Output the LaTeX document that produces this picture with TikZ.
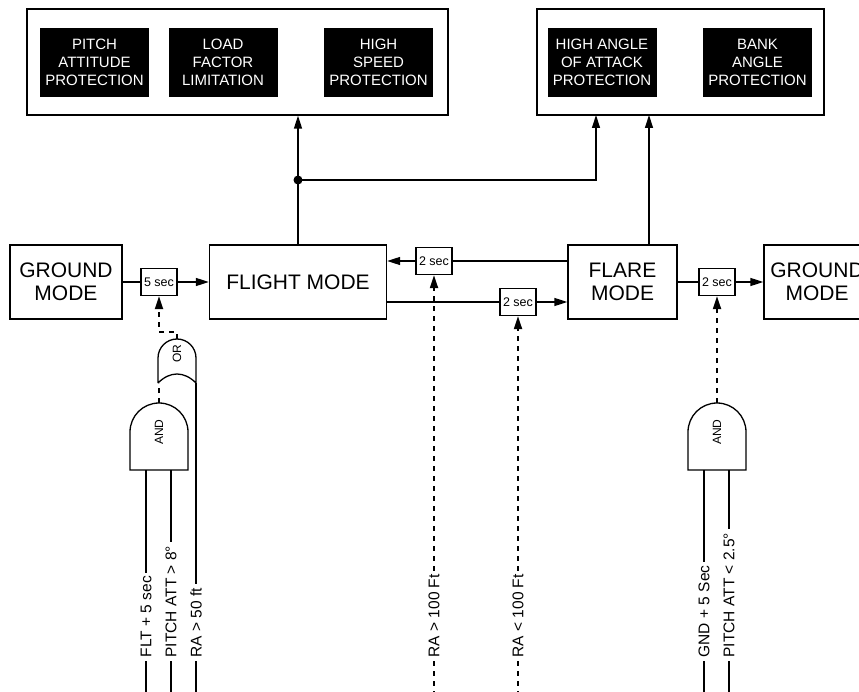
\documentclass[tikz,border=0pt]{standalone}
\usepackage{fontspec}
\setmainfont{Liberation Sans}
\usetikzlibrary{arrows.meta}

\begin{document}
\begin{tikzpicture}[x=1pt,y=-1pt,line width=1.3pt,
    modebox/.style={draw,minimum height=74pt,align=center,
      font=\fontsize{21}{23.5}\selectfont},
    panel/.style={draw,minimum height=106pt},
    prot/.style={fill=black,text=white,minimum width=109pt,minimum height=69pt,
      align=center,font=\fontsize{15}{18}\selectfont},
    timer/.style={draw,minimum width=36pt,minimum height=27pt,inner sep=1pt,
      font=\fontsize{12.5}{14}\selectfont},
    sig/.style={rotate=90,anchor=west,inner sep=3pt,
      font=\fontsize{15.5}{18}\selectfont},
    gatelbl/.style={rotate=90,font=\fontsize{12}{14}\selectfont},
    dsh/.style={line width=2pt,dash pattern=on 5pt off 5pt},
    arr/.style={-{Triangle[length=13pt,width=8pt]}}]
  \useasboundingbox (0,0) rectangle (859,692); \clip (0,0) rectangle (859,692);
  \coordinate (B) at (0,692);
  \node[panel,minimum width=421pt] (P1) at (237.5,62) {};
  \node[panel,minimum width=287pt] (P2) at (680.5,62) {};
  \node[prot] (PA) at (94.5,62.5) {PITCH\\ATTITUDE\\PROTECTION};
  \node[prot] (LF) at (223,62.5) {LOAD\\FACTOR\\LIMITATION};
  \node[prot] (HS) at (378.5,62.5) {HIGH\\SPEED\\PROTECTION};
  \node[prot] (AA) at (602,62.5) {HIGH ANGLE\\OF ATTACK\\PROTECTION};
  \node[prot] (BA) at (757.5,62.5) {BANK\\ANGLE\\PROTECTION};
  \node[modebox,minimum width=112pt] (GL) at (66,282) {GROUND\\MODE};
  \node[modebox,minimum width=177pt] (FM) at (298,282) {FLIGHT MODE};
  \node[modebox,minimum width=109pt] (FR) at (622.5,282) {FLARE\\MODE};
  \node[modebox,minimum width=106pt] (GR) at (817,282) {GROUND\\MODE};
  \node[timer] (S5) at (159,282) {5 sec};
  \node[timer] (S2a) at (434,261) {2 sec};
  \node[timer] (S2b) at (518,302) {2 sec};
  \node[timer] (S2c) at (717,282) {2 sec};
  \draw (GL) -- (S5); \draw[arr] (S5) -- (FM);
  \draw (FR.west |- S2a) -- (S2a); \draw[arr] (S2a) -- (S2a -| FM.east);
  \draw (FM.east |- S2b) -- (S2b); \draw[arr] (S2b) -- (S2b -| FR.west);
  \draw (FR) -- (S2c); \draw[arr] (S2c) -- (GR);
  \coordinate (J) at (298,180);
  \coordinate (Q1) at (596,115); \coordinate (Q2) at (649,115);
  \draw[arr] (FM.north) -- (FM.north |- P1.south);
  \fill (J) circle[radius=4.5pt];
  \draw[arr] (J) -| (Q1);
  \draw[arr] (FR.north -| Q2) -- (Q2);
  \draw (130,470) -- (130,432) arc[start angle=180,end angle=0,radius=29pt]
    -- (188,470) -- cycle;
  \draw (158,383) -- (158,358) arc[start angle=180,end angle=0,radius=19pt]
    -- (196,383) .. controls (184,371) and (170,371) .. (158,383);
  \draw (688,470) -- (688,432) arc[start angle=180,end angle=0,radius=29pt]
    -- (746,470) -- cycle;
  \node[gatelbl] (A1) at (159,432) {AND};
  \node[gatelbl] (O1) at (177,354) {OR};
  \node[gatelbl] (A2) at (717,432) {AND};
  \coordinate (A1o) at (159,403); \coordinate (A1b) at (159,470);
  \coordinate (O1a) at (159,383); \coordinate (O1b) at (196,383);
  \coordinate (O1o) at (177,339);
  \coordinate (A2o) at (717,403); \coordinate (A2b) at (717,470);
  \draw[dsh] (A1o) -- (O1a);
  \draw[dsh,arr] (O1o) -- ++(0,-7) -| (S5);
  \draw[dsh,arr] (A2o) -- (S2c);
  \node[sig] (I1) at (146,661) {FLT + 5 sec};
  \node[sig] (I2) at (171,661) {PITCH ATT > 8°};
  \node[sig] (I3) at (196,661) {RA > 50 ft};
  \node[sig] (R1) at (434,661) {RA > 100 Ft};
  \node[sig] (R2) at (518,661) {RA < 100 Ft};
  \node[sig] (I4) at (704,661) {GND + 5 Sec};
  \node[sig] (I5) at (729,661) {PITCH ATT < 2.5°};
  \draw (I1.east |- A1b) -- (I1.east) (I1.west) -- (I1.west |- B);
  \draw (I2.east |- A1b) -- (I2.east) (I2.west) -- (I2.west |- B);
  \draw (O1b) -- (I3.east) (I3.west) -- (I3.west |- B);
  \draw[dsh,arr] (R1.east) -- (S2a); \draw[dsh] (R1.west) -- (R1.west |- B);
  \draw[dsh,arr] (R2.east) -- (S2b); \draw[dsh] (R2.west) -- (R2.west |- B);
  \draw (I4.east |- A2b) -- (I4.east) (I4.west) -- (I4.west |- B);
  \draw (I5.east |- A2b) -- (I5.east) (I5.west) -- (I5.west |- B);
\end{tikzpicture}
\end{document}
